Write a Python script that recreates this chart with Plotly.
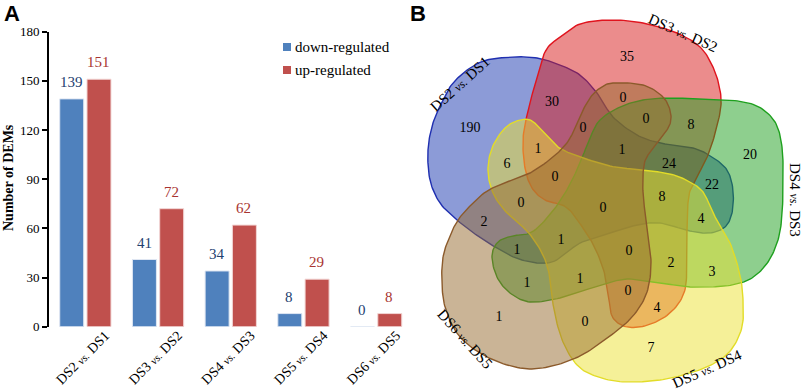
import numpy as np
import plotly.graph_objects as go

# ---------------- data ----------------
categories = ["DS2 vs. DS1", "DS3 vs. DS2", "DS4 vs. DS3", "DS5 vs. DS4", "DS6 vs. DS5"]
down_regulated = [139, 41, 34, 8, 0]
up_regulated = [151, 72, 62, 29, 8]
y_ticks = [0, 30, 60, 90, 120, 150, 180]
series_names = ["down-regulated", "up-regulated"]

venn_sets = ["DS2 vs. DS1", "DS3 vs. DS2", "DS4 vs. DS3", "DS5 vs. DS4", "DS6 vs. DS5"]
venn_counts = [35, 190, 30, 0, 0, 8, 20, 1, 1, 24, 6, 0, 0, 22,
               8, 0, 0, 4, 2, 1, 1, 0, 2, 3, 1, 1, 0, 4, 1, 0, 7]

# ---------------- layout constants ----------------
W, H = 803, 390
SERIF = "Liberation Serif, Times New Roman, serif"
SANS = "Liberation Sans, Arial, sans-serif"
BLUE, RED = "#4F81BD", "#C0504D"

# pixel positions of the Venn region counts (same order as venn_counts)
venn_label_x = [627, 470, 552, 623, 646, 691, 750, 538, 622, 669, 507, 583, 555, 712,
                662, 521, 603, 701, 484, 561, 517, 629, 671, 712, 527, 580, 628, 657, 499, 585, 651]
venn_label_y = [57, 128, 102, 98, 119, 125, 155, 149, 150, 164, 164, 128, 177, 185,
                197, 203, 208, 219, 222, 240, 250, 251, 263, 272, 283, 279, 291, 308, 317, 322, 348]

# Venn set outlines (pixel control points, smoothed with a closed Catmull-Rom spline)
OUTLINE_BLUE = [(428, 150), (433, 123), (443, 100), (453, 83), (470, 68), (487, 60), (513, 57), (537, 58),
                (560, 65), (580, 75), (597, 93), (613, 117), (637, 135), (660, 143), (693, 148), (712, 157),
                (727, 170), (733, 190), (732, 213), (725, 227), (710, 233), (690, 231), (660, 223), (637, 225),
                (610, 233), (580, 243), (552, 262), (522, 260), (497, 248), (475, 234), (457, 220), (440, 203),
                (430, 180)]
OUTLINE_RED = [(545, 52), (560, 37), (580, 24), (610, 20), (643, 23), (677, 33), (700, 47), (712, 65),
               (719, 85), (721, 105), (716, 130), (708, 155), (697, 177), (689, 195), (687, 230), (687, 265),
               (684, 293), (670, 313), (648, 325), (627, 327), (613, 318), (609, 300), (605, 275), (595, 248),
               (581, 225), (566, 207), (545, 200), (532, 188), (525, 168), (523, 140), (527, 115), (534, 88)]
OUTLINE_GREEN = [(600, 120), (620, 107), (643, 100), (670, 98), (700, 99), (730, 100), (757, 106), (775, 122),
                 (782, 147), (783, 180), (782, 215), (778, 240), (768, 262), (752, 278), (732, 285), (710, 287),
                 (690, 287), (660, 283), (627, 279), (595, 287), (560, 298), (530, 302), (510, 293), (497, 277),
                 (492, 256), (498, 242), (512, 236), (532, 232), (552, 212), (568, 188), (580, 163), (590, 138)]
OUTLINE_YELLOW = [(505, 128), (520, 120), (532, 121), (545, 134), (558, 147), (575, 155), (610, 166), (643, 170),
                  (670, 174), (688, 181), (703, 192), (714, 215), (730, 243), (740, 275), (743, 300), (742, 327),
                  (731, 350), (713, 364), (690, 373), (660, 380), (625, 382), (598, 377), (578, 366), (563, 342),
                  (554, 310), (550, 278), (543, 255), (528, 232), (508, 214), (494, 195), (488, 172), (492, 148)]
OUTLINE_BROWN = [(443, 257), (450, 236), (458, 220), (470, 206), (487, 191), (507, 182), (530, 173), (553, 157),
                 (569, 140), (580, 116), (590, 98), (600, 88), (613, 83), (643, 85), (662, 96), (670, 110),
                 (670, 124), (661, 138), (650, 152), (644, 165), (643, 193), (647, 227), (651, 262), (647, 292),
                 (633, 316), (610, 336), (580, 356), (548, 367), (520, 368), (487, 357), (460, 337), (446, 310),
                 (442, 285)]
SHAPE_STYLE = [
    dict(outline=OUTLINE_BLUE, fill="rgba(25,55,175,0.5)", line="#1f2fb0"),
    dict(outline=OUTLINE_RED, fill="rgba(215,25,25,0.5)", line="#e0141e"),
    dict(outline=OUTLINE_GREEN, fill="rgba(30,160,30,0.5)", line="#1ea01e"),
    dict(outline=OUTLINE_YELLOW, fill="rgba(235,225,50,0.5)", line="#e2dc28"),
    dict(outline=OUTLINE_BROWN, fill="rgba(150,105,45,0.5)", line="#8b5a2b"),
]
SET_LABEL_POS = [(460, 84, -42), (683, 33, 24), (795, 200, 90), (707, 369, -24), (465, 339, 48)]


def catmull_closed(pts, n=12):
    P = np.asarray(pts, dtype=float)
    N = len(P)
    out = []
    for i in range(N):
        p0, p1, p2, p3 = P[(i - 1) % N], P[i], P[(i + 1) % N], P[(i + 2) % N]
        for t in np.linspace(0, 1, n, endpoint=False):
            t2, t3 = t * t, t * t * t
            out.append(0.5 * ((2 * p1) + (-p0 + p2) * t + (2 * p0 - 5 * p1 + 4 * p2 - p3) * t2
                              + (-p0 + 3 * p1 - 3 * p2 + p3) * t3))
    out.append(out[0])
    return np.array(out)


def label_html(s, small=12):
    a, b = s.split(" vs. ")
    return f"{a} <i><span style='font-size:{small}px'>vs.</span></i> {b}"


fig = go.Figure()

# ---------------- panel A : bars ----------------
fig.add_trace(go.Bar(x=categories, y=down_regulated, name=series_names[0],
                     marker=dict(color=BLUE, line=dict(color="#dfe6f2", width=1)),
                     xaxis="x", yaxis="y", hoverinfo="skip", showlegend=False))
fig.add_trace(go.Bar(x=categories, y=up_regulated, name=series_names[1],
                     marker=dict(color=RED, line=dict(color="#f2d6d5", width=1)),
                     xaxis="x", yaxis="y", hoverinfo="skip", showlegend=False))

annotations = []
shapes = []
for i, c in enumerate(categories):
    annotations.append(dict(x=c, y=down_regulated[i], xref="x", yref="y", text=str(down_regulated[i]),
                            showarrow=False, xshift=-14, yshift=17,
                            font=dict(family=SERIF, size=15, color="#23406f")))
    annotations.append(dict(x=c, y=up_regulated[i], xref="x", yref="y", text=str(up_regulated[i]),
                            showarrow=False, xshift=13, yshift=17,
                            font=dict(family=SERIF, size=15, color="#a83431")))

# legend (swatch + label)
for k, (nm, col) in enumerate(zip(series_names, [BLUE, RED])):
    yc = 47 + 23 * k
    shapes.append(dict(type="rect", xref="paper", yref="paper",
                       x0=283 / W, x1=291 / W, y0=1 - (yc - 4) / H, y1=1 - (yc + 4) / H,
                       fillcolor=col, line=dict(width=0)))
    annotations.append(dict(x=293 / W, y=1 - yc / H, xref="paper", yref="paper", text=nm,
                            xanchor="left", yanchor="middle", showarrow=False,
                            font=dict(family=SERIF, size=15, color="black")))

# ---------------- panel B : Venn ----------------
for name, st in zip(venn_sets, SHAPE_STYLE):
    curve = catmull_closed(st["outline"])
    fig.add_trace(go.Scatter(x=curve[:, 0], y=curve[:, 1],
                             mode="lines", fill="toself", fillcolor=st["fill"],
                             line=dict(color=st["line"], width=1.4),
                             xaxis="x2", yaxis="y2", hoverinfo="skip", showlegend=False, name=name))

fig.add_trace(go.Scatter(x=venn_label_x, y=venn_label_y, mode="text",
                         text=[str(v) for v in venn_counts],
                         textfont=dict(family=SERIF, size=14, color="black"),
                         xaxis="x2", yaxis="y2", hoverinfo="skip", showlegend=False, cliponaxis=False))

for name, (lx, ly, ang) in zip(venn_sets, SET_LABEL_POS):
    annotations.append(dict(x=lx, y=ly, xref="x2", yref="y2", text=label_html(name),
                            textangle=ang, showarrow=False, xanchor="center", yanchor="middle",
                            font=dict(family=SERIF, size=15, color="black")))

# panel letters
annotations.append(dict(x=12 / W, y=1 - 14 / H, xref="paper", yref="paper", text="<b>A</b>",
                        xanchor="center", yanchor="middle",
                        showarrow=False, font=dict(family=SANS, size=22, color="black")))
annotations.append(dict(x=418 / W, y=1 - 14 / H, xref="paper", yref="paper", text="<b>B</b>",
                        xanchor="center", yanchor="middle",
                        showarrow=False, font=dict(family=SANS, size=22, color="black")))
# y axis title
annotations.append(dict(x=9 / W, y=1 - 178 / H, xref="paper", yref="paper", text="<b>Number of DEMs</b>",
                        xanchor="center", yanchor="middle",
                        textangle=-90, showarrow=False, font=dict(family=SERIF, size=14, color="black")))

fig.update_layout(
    width=W, height=H,
    margin=dict(l=0, r=0, t=0, b=0, autoexpand=False),
    paper_bgcolor="white", plot_bgcolor="rgba(0,0,0,0)",
    barmode="group", bargap=0.25, bargroupgap=0.12,
    showlegend=False,
    xaxis=dict(domain=[49 / W, 412.5 / W], anchor="y", range=[-0.5, 4.5], automargin=False,
               tickvals=categories, ticktext=[label_html(c, 11) for c in categories],
               tickangle=-45, ticks="", showline=False, showgrid=False, zeroline=False,
               ticklabelshift=20, ticklabelstandoff=-3,
               tickfont=dict(family=SERIF, size=14, color="black")),
    yaxis=dict(domain=[(H - 326.7) / H, (H - 31.7) / H], anchor="x", range=[0, 180], automargin=False,
               tickvals=y_ticks, ticks="outside", ticklen=5, tickwidth=2, tickcolor="black",
               showline=True, linecolor="black", linewidth=2, showgrid=False, zeroline=False,
               tickfont=dict(family=SERIF, size=13, color="black")),
    xaxis2=dict(domain=[0, 1], anchor="y2", range=[0, W], visible=False, fixedrange=True, automargin=False),
    yaxis2=dict(domain=[0, 1], anchor="x2", range=[H, 0], visible=False, fixedrange=True, automargin=False),
    annotations=annotations,
    shapes=shapes,
)

fig.write_html("out.html", config={"displayModeBar": False},
               post_script="document.body.style.margin='0';document.body.style.overflow='hidden';")
